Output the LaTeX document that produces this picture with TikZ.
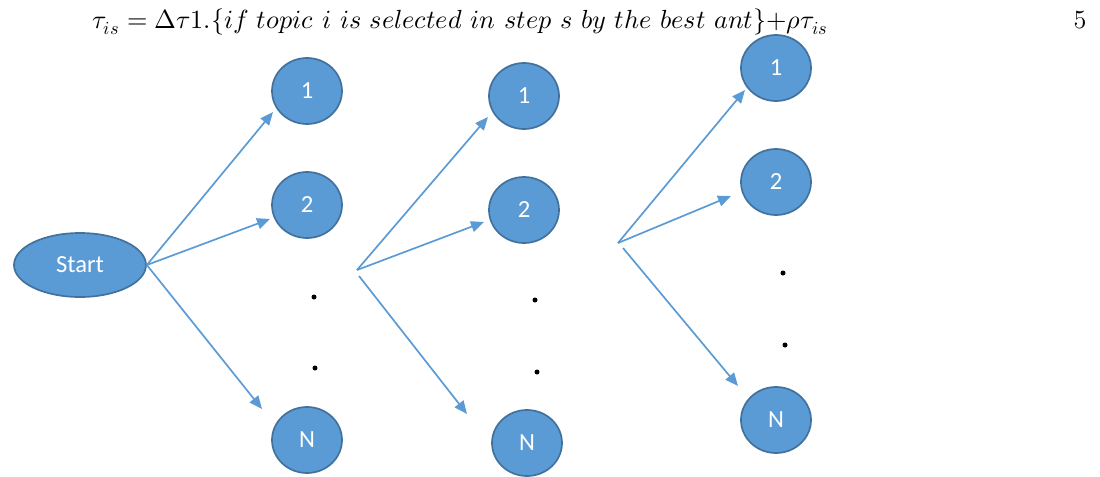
\documentclass[tikz,border=0pt]{standalone}
\usepackage{fontspec}
\usepackage{unicode-math}
\newfontfamily\nodefont{Carlito}
\usetikzlibrary{arrows.meta,shapes.geometric}
\definecolor{nodefill}{HTML}{5B9BD5}
\definecolor{nodeedge}{HTML}{41719C}
\definecolor{arrowcol}{HTML}{5B9BD5}
\tikzset{
  topic/.style={ellipse, draw=nodeedge, fill=nodefill, line width=0.85pt,
    minimum width=35pt, minimum height=33pt, inner sep=0pt,
    text=white, font=\nodefont\fontsize{12.3}{13}\selectfont},
  startnode/.style={topic, minimum width=66pt, minimum height=32pt},
  link/.style={draw=arrowcol, line width=0.85pt, -{Triangle[length=6.5pt,width=5.5pt]}},
  dotmark/.style={circle, fill=black, inner sep=0pt, minimum size=2.5pt},
  eqfont/.style={font=\fontsize{13.1}{15}\selectfont},
}
\begin{document}
\begin{tikzpicture}[x=0.5pt,y=-0.5pt]
\useasboundingbox (0,0) rectangle (1100,477);
% equation
\node[anchor=base west, inner sep=0pt, eqfont] (eq) at (92,28)
  {$\tau_{is}=\Delta\tau1.\{if\ topic\ i\ is\ selected\ in\ step\ s\ by\ the\ best\ ant\}{+}\rho\tau_{is}$};
\node[anchor=base, inner sep=0pt, eqfont] (num) at (1080,28) {5};
% start
\node[startnode] (start) at (80,265) {Start};
% column 1
\node[topic] (a1) at (307,91) {1};
\node[topic] (a2) at (307,205) {2};
\node[topic] (aN) at (307,440) {N};
\node[dotmark] (ad1) at (314,297) {};
\node[dotmark] (ad2) at (315,368) {};
% column 2
\node[topic] (b1) at (524,96) {1};
\node[topic] (b2) at (524,210) {2};
\node[topic] (bN) at (527,443) {N};
\node[dotmark] (bd1) at (535,300) {};
\node[dotmark] (bd2) at (537,372) {};
% column 3
\node[topic] (c1) at (776,68) {1};
\node[topic] (c2) at (776,182) {2};
\node[topic] (cN) at (776,420) {N};
\node[dotmark] (cd1) at (783,273) {};
\node[dotmark] (cd2) at (785,345) {};
% sources and tips
\coordinate (s2a) at (357,270);
\coordinate (s2b) at (359,276);
\coordinate (s3a) at (618,243);
\coordinate (s3b) at (623,248);
\coordinate (ta1) at (273,112);
\coordinate (ta2) at (270,219);
\coordinate (taN) at (262,409);
\coordinate (tb1) at (488,117);
\coordinate (tb2) at (484,222);
\coordinate (tbN) at (467,414);
\coordinate (tc1) at (745,90);
\coordinate (tc2) at (731,196);
\coordinate (tcN) at (738,386);
% arrows
\draw[link] (start.east) -- (ta1);
\draw[link] (start.east) -- (ta2);
\draw[link] (start.east) -- (taN);
\draw[link] (s2a) -- (tb1);
\draw[link] (s2a) -- (tb2);
\draw[link] (s2b) -- (tbN);
\draw[link] (s3a) -- (tc1);
\draw[link] (s3a) -- (tc2);
\draw[link] (s3b) -- (tcN);
\end{tikzpicture}
\end{document}
